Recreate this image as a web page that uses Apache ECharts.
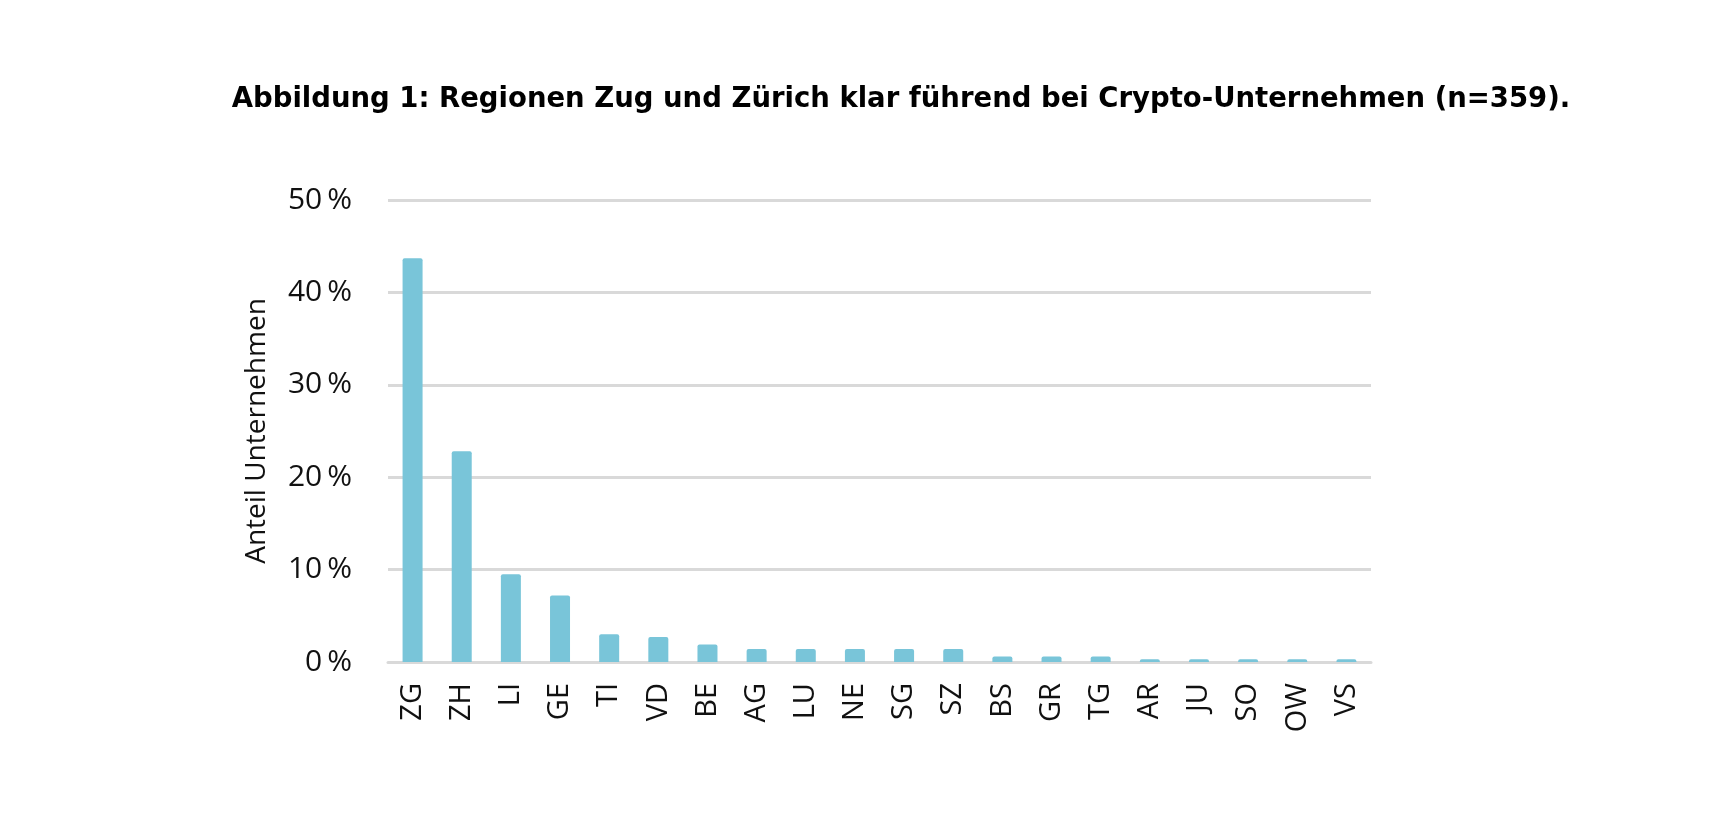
<!DOCTYPE html>
<html>
<head>
<meta charset="utf-8">
<script src="https://cdn.jsdelivr.net/npm/echarts@6/dist/echarts.min.js"></script>
<style>
html,body{margin:0;padding:0;background:#fff;}
#chart{width:1728px;height:816px;}
</style>
</head>
<body>
<div id="chart"></div>
<script>
const titleText = 'Abbildung 1: Regionen Zug und Zürich klar führend bei Crypto-Unternehmen (n=359).';
const categories = ['ZG','ZH','LI','GE','TI','VD','BE','AG','LU','NE','SG','SZ','BS','GR','TG','AR','JU','SO','OW','VS'];
const shares = [43.7, 22.8, 9.5, 7.2, 3.0, 2.7, 1.9, 1.4, 1.4, 1.4, 1.4, 1.4, 0.6, 0.6, 0.6, 0.3, 0.3, 0.3, 0.3, 0.3];
const yAxisName = 'Anteil Unternehmen';

const chart = echarts.init(document.getElementById('chart'));
const labelFont = '"Open Sans", "Noto Sans", sans-serif';
chart.setOption({
  animation: false,
  backgroundColor: '#ffffff',
  title: {
    text: titleText,
    left: 896,
    top: 81,
    textAlign: 'center',
    textStyle: {
      fontFamily: '"DejaVu Sans", Verdana, sans-serif',
      fontWeight: 'bold',
      fontSize: 27.5,
      color: '#000'
    }
  },
  grid: { left: 388, right: 357, top: 200, bottom: 154 },
  xAxis: {
    type: 'category',
    data: categories,
    axisLine: { show: true, lineStyle: { color: '#d9d9d9', width: 3 } },
    axisTick: { show: false },
    axisLabel: {
      rotate: 90,
      margin: 21,
      fontFamily: labelFont,
      fontSize: 29,
      color: '#111'
    }
  },
  yAxis: {
    type: 'value',
    min: 0,
    max: 50,
    interval: 10,
    name: yAxisName,
    nameLocation: 'middle',
    nameGap: 117,
    nameTextStyle: { fontFamily: labelFont, fontSize: 28, color: '#111' },
    axisLine: { show: false },
    axisTick: { show: false },
    axisLabel: {
      margin: 36,
      formatter: v => v + '\u2009%',
      fontFamily: labelFont,
      fontSize: 30,
      color: '#111'
    },
    splitLine: { lineStyle: { color: '#d9d9d9', width: 3 } }
  },
  series: [{
    type: 'bar',
    data: shares,
    barWidth: 20,
    itemStyle: { color: '#79c5d9', borderRadius: [2, 2, 0, 0] }
  }]
});
</script>
</body>
</html>
